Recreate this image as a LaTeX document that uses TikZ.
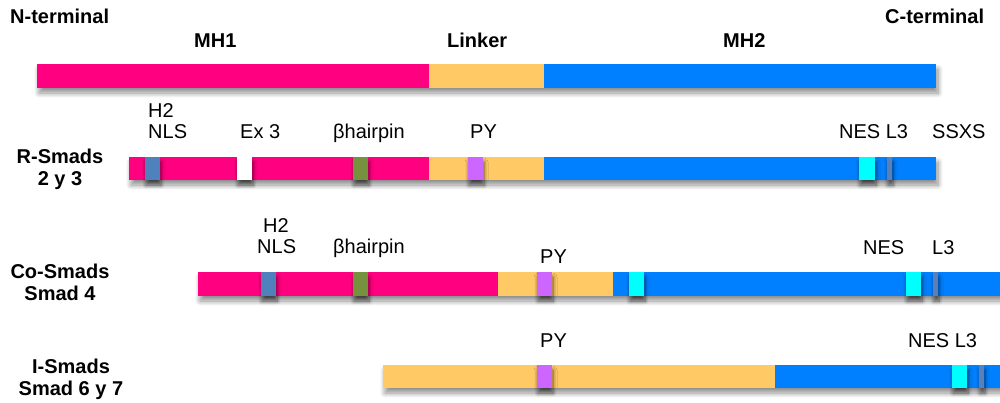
\documentclass[tikz,border=0pt]{standalone}
\usepackage{fontspec}
\setmainfont{Liberation Sans}
\usetikzlibrary{shadows.blur}
\definecolor{mhone}{HTML}{FF0080}
\definecolor{linkercol}{HTML}{FFC966}
\definecolor{mhtwo}{HTML}{0080FF}
\definecolor{nlscol}{HTML}{4F81BD}
\definecolor{hairpincol}{HTML}{76923C}
\definecolor{pycol}{HTML}{CC66FF}
\definecolor{nescol}{HTML}{00FFFF}
\definecolor{lthreecol}{HTML}{5B7FB8}
\tikzset{
  lbl/.style={inner sep=0pt, anchor=base west, font=\fontsize{20}{24}\selectfont},
  clbl/.style={inner sep=0pt, anchor=north, align=center, font=\fontsize{20}{22}\selectfont\bfseries},
  hdr/.style={lbl, font=\fontsize{20}{24}\selectfont\bfseries},
  barshadow/.style={blur shadow={shadow xshift=2pt, shadow yshift=-5pt, shadow blur radius=5pt, shadow blur steps=10, shadow opacity=45}},
  motifshadow/.style={blur shadow={shadow xshift=1pt, shadow yshift=-5pt, shadow blur radius=4pt, shadow blur steps=8, shadow opacity=55}},
}
\newcommand\mybar[4]{\fill[white, barshadow] (#1,#3) rectangle (#2,#4);}
\newcommand\mysegment[5]{\fill[#5] (#1,#3) rectangle (#2,#4);}
\newcommand\mymotif[5]{\fill[#5, motifshadow] (#1,#3) rectangle (#2,#4);}
\begin{document}
\begin{tikzpicture}[x=1pt, y=-1pt]
\useasboundingbox (0,0) rectangle (1000,402);
\clip (0,0) rectangle (1000,402);
% ---- headers
\node[hdr] (nterm) at (10,23) {N-terminal};
\node[hdr] (mh1) at (194,47) {MH1};
\node[hdr] (linker) at (447,47) {Linker};
\node[hdr] (mh2) at (723,47) {MH2};
\node[hdr] (cterm) at (885,23) {C-terminal};
% ---- top bar
\mybar{37}{936}{64}{88}
\mysegment{37}{429}{64}{88}{mhone}
\mysegment{429}{544}{64}{88}{linkercol}
\mysegment{544}{936}{64}{88}{mhtwo}
% ---- R-Smads
\node[clbl] (rs) at (60,148.5) {R-Smads\\2 y 3};
\node[lbl] (rh2) at (148,117) {H2};
\node[lbl] (rnls) at (148,138) {NLS};
\node[lbl] (rex) at (240,138) {Ex 3};
\node[lbl] (rbh) at (333,138) {βhairpin};
\node[lbl] (rpy) at (470,138) {PY};
\node[lbl] (rnes) at (839,138) {NES L3};
\node[lbl] (rssxs) at (932,138) {SSXS};
\mybar{129}{936}{157}{180}
\mysegment{129}{429}{157}{180}{mhone}
\mysegment{429}{544}{157}{180}{linkercol}
\mysegment{544}{936}{157}{180}{mhtwo}
\mymotif{145}{160}{157}{180}{nlscol}
\mymotif{237}{252}{157}{180}{white}
\mymotif{353}{368}{157}{180}{hairpincol}
\mymotif{468}{483}{157}{180}{pycol}
\mymotif{859}{875}{157}{180}{nescol}
\mymotif{887}{892}{157}{180}{lthreecol}
% ---- Co-Smads
\node[clbl] (cs) at (60,263.4) {Co-Smads\\Smad 4};
\node[lbl] (ch2) at (263,232) {H2};
\node[lbl] (cnls) at (257,253) {NLS};
\node[lbl] (cbh) at (333,253) {βhairpin};
\node[lbl] (cpy) at (540,263) {PY};
\node[lbl] (cnes) at (863,254) {NES};
\node[lbl] (cl3) at (932,254) {L3};
\mybar{198}{1010}{272}{296}
\mysegment{198}{498}{272}{296}{mhone}
\mysegment{498}{613}{272}{296}{linkercol}
\mysegment{613}{1010}{272}{296}{mhtwo}
\mymotif{261}{276}{272}{296}{nlscol}
\mymotif{353}{368}{272}{296}{hairpincol}
\mymotif{537}{552}{272}{296}{pycol}
\mymotif{629}{644}{272}{296}{nescol}
\mymotif{906}{921}{272}{296}{nescol}
\mymotif{933}{938}{272}{296}{lthreecol}
% ---- I-Smads
\node[clbl] (is) at (71,358.5) {I-Smads\\Smad 6 y 7};
\node[lbl] (ipy) at (540,347) {PY};
\node[lbl] (ines) at (908,347) {NES L3};
\mybar{383}{1010}{365}{388}
\mysegment{383}{775}{365}{388}{linkercol}
\mysegment{775}{1010}{365}{388}{mhtwo}
\mymotif{537}{552}{365}{388}{pycol}
\mymotif{952}{967}{365}{388}{nescol}
\mymotif{979}{984}{365}{388}{lthreecol}
\end{tikzpicture}
\end{document}
